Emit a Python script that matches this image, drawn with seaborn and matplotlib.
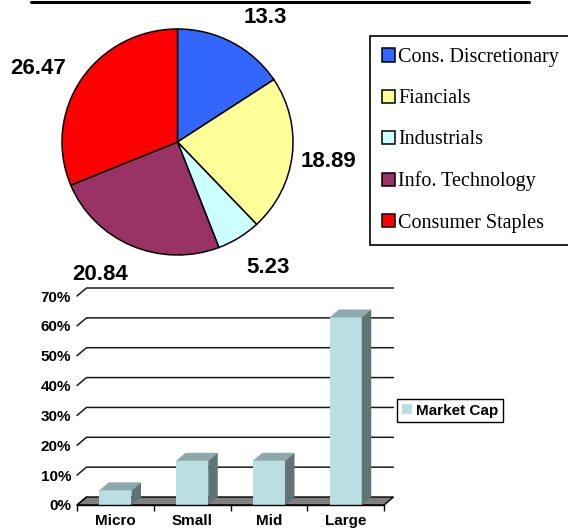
import numpy as np
import matplotlib
matplotlib.use("Agg")
import matplotlib.pyplot as plt
from matplotlib.patches import Polygon, Patch
from matplotlib.lines import Line2D
from matplotlib.ticker import FuncFormatter, FixedLocator
import seaborn as sns

# ---------------- data ----------------
sectors = ["Cons. Discretionary", "Fiancials", "Industrials",
           "Info. Technology", "Consumer Staples"]
sector_weights = [13.3, 18.89, 5.23, 20.84, 26.47]
sector_colors = ["#3366FF", "#FFFF99", "#CCFFFF", "#993366", "#FF0000"]

cap_labels = ["Micro", "Small", "Mid", "Large"]
cap_share = [4.9, 14.8, 14.8, 62.8]
cap_series = "Market Cap"
y_ticks = [0, 10, 20, 30, 40, 50, 60, 70]

# ---------------- style ----------------
sns.set_theme(style="white")
plt.rcParams["font.family"] = ["Liberation Sans", "DejaVu Sans"]
plt.rcParams["text.color"] = "black"
plt.rcParams["xtick.color"] = "black"
plt.rcParams["ytick.color"] = "black"
plt.rcParams["xtick.labelcolor"] = "black"
plt.rcParams["ytick.labelcolor"] = "black"

W, H = 568, 531
fig = plt.figure(figsize=(W / 100, H / 100), dpi=100)
fig.patch.set_facecolor("white")

def fx(px):
    return px / W

def fy(py):
    return 1 - py / H

# top rule
fig.add_artist(Line2D([fx(31), fx(529)], [fy(1.5), fy(1.5)],
                      color="black", lw=2.2))

# ---------------- pie ----------------
axp = fig.add_axes([fx(62), fy(255), (293 - 62) / W, (255 - 29) / H])
wedges, texts = axp.pie(
    sector_weights, colors=sector_colors, startangle=90, counterclock=False,
    labels=[f"{v:g}" for v in sector_weights], labeldistance=1.32,
    wedgeprops=dict(edgecolor="black", linewidth=1.1),
    textprops=dict(fontsize=16, fontweight="bold", ha="center", va="center",
                   family="Liberation Sans", color="black"),
)
axp.set_xlim(-1, 1)
axp.set_ylim(-1, 1)
axp.set_aspect("auto")
axp.axis("off")

# small placement nudges (pixels, right / up) mimicking the original label layout
label_nudge_px = [(16, -7), (0, -2), (9, 1), (-17, 5), (-13, -9)]
inv_p = axp.transData.inverted()
for t, (nx, ny) in zip(texts, label_nudge_px):
    disp = axp.transData.transform(t.get_position())
    t.set_position(inv_p.transform(disp + np.array([nx, ny])))

leg1 = fig.legend(
    wedges, sectors, loc="upper left",
    bbox_to_anchor=(fx(370), fy(36)), bbox_transform=fig.transFigure,
    prop=dict(family="Liberation Serif", size=14.5),
    frameon=True, fancybox=False, edgecolor="black", framealpha=1,
    borderaxespad=0, handlelength=0.64, handleheight=0.64,
    handletextpad=0.15, labelspacing=1.1, borderpad=0.6,
)
leg1.get_frame().set_linewidth(1.2)
for t in leg1.get_texts():
    t.set_color("black")

# ---------------- 3D-look bar chart ----------------
front = "#B9DFE3"
top_c = "#8DA9AB"
side_c = "#5F7475"

axb = fig.add_axes([fx(77), fy(505), (384 - 77) / W, (505 - 296) / H])
sns.barplot(x=cap_labels, y=cap_share, ax=axb, color=front, width=0.42,
            saturation=1, edgecolor="none", zorder=3)
axb.set_xlim(-0.5, len(cap_labels) - 0.5)
axb.set_ylim(0, 70)
axb.set_xlabel("")
axb.set_ylabel("")

# depth offset in data units (derived from pixel depth)
inv = axb.transData.inverted()
origin = axb.transData.transform((0, 0))
ddx, ddy = inv.transform(origin + np.array([9.5, 8.0]))
xmin, xmax = axb.get_xlim()

# floor
axb.add_patch(Polygon([(xmin, 0), (xmax, 0), (xmax + ddx, ddy), (xmin + ddx, ddy)],
                      closed=True, facecolor="#808080", edgecolor="black",
                      lw=1.0, clip_on=False, zorder=1.5))
# back-wall gridlines
for v in y_ticks[1:]:
    axb.plot([xmin, xmin + ddx, xmax + ddx], [v, v + ddy, v + ddy],
             color="#1a1a1a", lw=1.1, clip_on=False, zorder=1)
axb.plot([xmin, xmin + ddx], [0, ddy], color="black", lw=1.0,
         clip_on=False, zorder=1.6)

# bar tops and sides
for p in list(axb.patches):
    if not hasattr(p, "get_x") or p.get_height() <= 0:
        continue
    x0 = p.get_x()
    x1 = x0 + p.get_width()
    h = p.get_height()
    p.set_clip_on(False)
    axb.add_patch(Polygon([(x0, h), (x1, h), (x1 + ddx, h + ddy), (x0 + ddx, h + ddy)],
                          closed=True, facecolor=top_c, edgecolor="none",
                          clip_on=False, zorder=3))
    axb.add_patch(Polygon([(x1, 0), (x1 + ddx, ddy), (x1 + ddx, h + ddy), (x1, h)],
                          closed=True, facecolor=side_c, edgecolor="none",
                          clip_on=False, zorder=3))

for s in ["left", "right", "top"]:
    axb.spines[s].set_visible(False)
axb.spines["bottom"].set_color("black")
axb.spines["bottom"].set_linewidth(1.0)
axb.spines["bottom"].set_zorder(4)

axb.set_yticks(y_ticks)
axb.yaxis.set_major_formatter(FuncFormatter(lambda v, _: f"{v:.0f}%"))
axb.tick_params(axis="y", length=0, pad=4.3, labelsize=11)
axb.tick_params(axis="x", which="major", length=0, pad=6.5, labelsize=11)
axb.xaxis.set_minor_locator(FixedLocator(np.arange(-0.5, len(cap_labels), 1.0)))
axb.tick_params(axis="x", which="minor", bottom=True, length=4, width=1,
                color="black", direction="out")
for t in axb.get_xticklabels() + axb.get_yticklabels():
    t.set_fontweight("bold")
    t.set_color("black")

leg2 = axb.legend(
    handles=[Patch(facecolor=front, edgecolor="none")], labels=[cap_series],
    loc="center left", bbox_to_anchor=(fx(397), fy(410.5)),
    bbox_transform=fig.transFigure,
    prop=dict(family="Liberation Sans", weight="bold", size=11),
    frameon=True, fancybox=False, edgecolor="black", framealpha=1,
    borderaxespad=0, handlelength=0.65, handleheight=0.65,
    handletextpad=0.3, borderpad=0.3,
)
leg2.get_frame().set_linewidth(1.0)
for t in leg2.get_texts():
    t.set_color("black")

fig.savefig("out.png", dpi=100)
